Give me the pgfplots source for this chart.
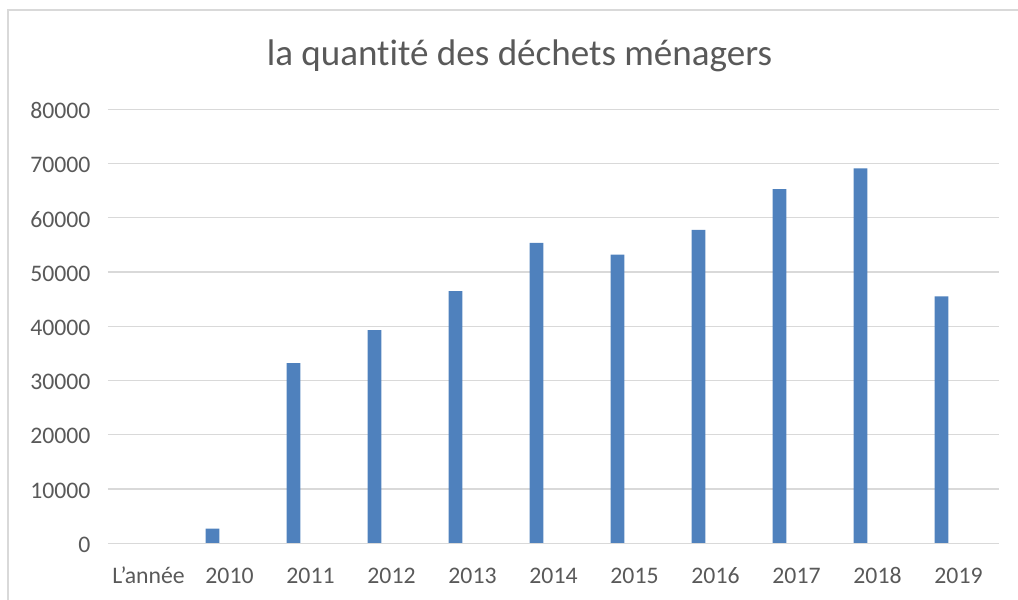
\documentclass[border=0pt]{standalone}
\usepackage{fontspec}
\setmainfont[Ligatures={NoCommon}]{Carlito}
\usepackage{pgfplots}
\pgfplotsset{compat=1.18}

\definecolor{barblue}{HTML}{4F81BD}
\definecolor{gridgray}{HTML}{D9D9D9}
\definecolor{txtgray}{HTML}{595959}

\begin{document}
\begin{tikzpicture}
  % page size (1 px = 0.75pt, origin at the plot's lower left corner)
  \path[use as bounding box] (-81pt,-41.8pt) rectangle (682.5pt,407.5pt);
  % chart frame
  \draw[gridgray, line width=1.5pt] (-75pt,-60pt) -- (-75pt,400pt) -- (700pt,400pt);
  % title
  \node[anchor=base, text=txtgray, font=\fontsize{27.8}{32}\selectfont]
    at (308.6pt,358pt) {la quantité des déchets ménagers};
  \begin{axis}[
      scale only axis,
      width=668.25pt,
      height=325.5pt,
      ybar,
      bar width=10.2pt,
      bar shift=-12.75pt,
      xmin=-0.5, xmax=10.5,
      ymin=0, ymax=80000,
      xtick={0,...,10},
      xticklabels={L’année,2010,2011,2012,2013,2014,2015,2016,2017,2018,2019},
      ytick={0,10000,...,80000},
      scaled y ticks=false,
      /pgf/number format/assume math mode=true,
      yticklabel={\pgfmathprintnumber[fixed,1000 sep={}]{\tick}},
      ymajorgrids,
      grid style={gridgray, line width=0.9pt},
      major tick length=0pt,
      axis line style={draw=none},
      axis x line*=bottom,
      axis y line*=left,
      tick label style={text=txtgray, font=\fontsize{17.8}{21}\selectfont},
      xticklabel style={anchor=base, yshift=-30pt},
      yticklabel style={anchor=east, xshift=-9.6pt, yshift=-1.1pt},
      clip=false,
    ]
    \addplot[fill=barblue, draw=none] coordinates {
      (1,2700) (2,33200) (3,39300) (4,46500) (5,55400)
      (6,53200) (7,57800) (8,65300) (9,69100) (10,45500)
    };
    \draw[gridgray, line width=0.9pt] (axis cs:-0.5,0) -- (axis cs:10.5,0);
  \end{axis}
\end{tikzpicture}
\end{document}
